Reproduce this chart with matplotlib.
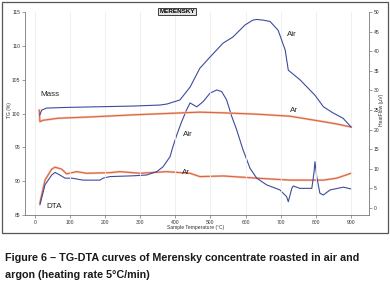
import matplotlib
matplotlib.use("Agg")
import matplotlib.pyplot as plt
from matplotlib.patches import Rectangle

# ---- data ----
tg_air_T = [14, 19, 33, 90, 280, 356, 376, 413, 442, 470, 499, 536, 564, 599, 621, 632, 650, 670, 693, 713, 722, 755, 798, 822, 849, 878, 901]
tg_air = [99.8, 100.5, 100.8, 100.9, 101.1, 101.25, 101.4, 102.0, 103.9, 106.7, 108.35, 110.4, 111.3, 113.1, 113.8, 113.9, 113.8, 113.6, 112.3, 109.4, 106.4, 105.0, 102.7, 101.0, 100.1, 99.3, 98.0]

tg_ar_T = [12, 14, 23, 66, 162, 279, 470, 536, 633, 727, 821, 860, 901]
tg_ar = [100.5, 98.8, 99.0, 99.3, 99.5, 99.8, 100.2, 100.1, 99.9, 99.6, 98.8, 98.45, 98.0]

dta_air_T = [14, 28.5, 47.6, 57, 71, 85.5, 105, 137, 185, 194, 214, 279, 318, 347, 365, 385, 393, 404, 418, 432, 442, 461, 479, 499, 518, 532, 546, 561, 575, 593, 613, 632, 660, 698, 717, 722, 727, 732, 736, 755, 789, 795, 798, 803, 812, 822, 841, 879, 901]
dta_air = [0.8, 5.9, 8.4, 9.06, 8.4, 7.6, 7.6, 7.1, 7.1, 7.6, 8.0, 8.2, 8.4, 9.26, 10.5, 13.1, 15.6, 18.6, 22.0, 25.0, 26.8, 25.8, 27.1, 29.3, 30.1, 29.7, 27.6, 23.3, 19.9, 14.8, 10.1, 7.6, 5.9, 4.6, 2.9, 1.6, 3.3, 5.0, 5.6, 5.0, 5.0, 8.9, 11.8, 8.0, 3.75, 3.3, 4.6, 5.3, 4.85]

dta_ar_T = [14, 28.5, 47.6, 57, 76, 90, 119, 147, 214, 242, 299, 375, 442, 470, 537, 632, 727, 822, 860, 901]
dta_ar = [1.3, 7.1, 9.9, 10.4, 9.9, 8.7, 9.26, 8.85, 9.0, 9.26, 8.85, 9.26, 8.85, 8.0, 8.16, 7.6, 7.1, 7.1, 7.6, 8.85]

x_ticks = [0, 100, 200, 300, 400, 500, 600, 700, 800, 900]
tg_ticks = [85, 90, 95, 100, 105, 110, 115]
hf_ticks = [0, 5, 10, 15, 20, 25, 30, 35, 40, 45, 50]

BLUE = "#3d4c9c"
ORANGE = "#dc6440"
ORANGE_HALO = "#f5c6b4"
FONT = "Liberation Sans"

W, H = 390, 294
fig = plt.figure(figsize=(W / 100, H / 100), dpi=100)
fig.patch.set_facecolor("white")

# outer frame
fig.add_artist(Rectangle((2 / W, 1 - 233 / H), 386 / W, 231 / H, transform=fig.transFigure,
                         fill=False, edgecolor="#555555", lw=0.9))

ax = fig.add_axes([25 / W, 1 - 215 / H, 344 / W, 203 / H])
ax2 = ax.twinx()
ax.set_zorder(ax2.get_zorder() + 1)
ax.patch.set_visible(False)

ax.set_xlim(-28.5, 952)
ax.set_ylim(85, 115)
ax2.set_ylim(-1.8, 50)

for t in x_ticks:
    ax.axvline(t, color="#ececec", lw=0.6, zorder=0)

# TG curves (left)
ax.plot(tg_ar_T, tg_ar, color=ORANGE_HALO, lw=1.6, zorder=2)
ax.plot(tg_ar_T, tg_ar, color=ORANGE, lw=0.8, zorder=3)
ax.plot(tg_air_T, tg_air, color=BLUE, lw=0.8, zorder=4)

# DTA curves (right)
ax2.plot(dta_ar_T, dta_ar, color=ORANGE_HALO, lw=1.6, zorder=2)
ax2.plot(dta_ar_T, dta_ar, color=ORANGE, lw=0.8, zorder=3)
ax2.plot(dta_air_T, dta_air, color=BLUE, lw=0.8, zorder=4)

for a in (ax, ax2):
    a.spines["top"].set_visible(False)
    for s in ("left", "right", "bottom"):
        a.spines[s].set_color("#777777")
        a.spines[s].set_linewidth(0.6)
ax.spines["right"].set_visible(False)
ax2.spines["left"].set_visible(False)
ax2.spines["bottom"].set_visible(False)

ax.set_xticks(x_ticks)
ax.set_yticks(tg_ticks)
ax2.set_yticks(hf_ticks)
ax.tick_params(axis="both", labelsize=3.6, length=2, width=0.5, color="#777777", pad=1.5, labelcolor="#333333")
ax2.tick_params(axis="y", labelsize=3.6, length=2, width=0.5, color="#777777", pad=1.5, labelcolor="#333333")
for lab in ax.get_xticklabels() + ax.get_yticklabels() + ax2.get_yticklabels():
    lab.set_family(FONT)

fig.text(9 / W, 1 - 110 / H, "TG (%)", rotation=90, ha="center", va="center", fontsize=3.6, family=FONT, color="#333333")
fig.text(381 / W, 1 - 110 / H, "HeatFlow (µV)", rotation=90, ha="center", va="center", fontsize=3.6, family=FONT, color="#333333")
fig.text(196 / W, 1 - 227 / H, "Sample Temperature (°C)", ha="center", va="center", fontsize=3.6, family=FONT, color="#333333")

fig.text(177 / W, 1 - 11.5 / H, "MERENSKY", ha="center", va="center", fontsize=4.6, family=FONT, weight="bold",
         bbox=dict(boxstyle="square,pad=0.22", facecolor="#e4e4e4", edgecolor="#222222", lw=0.6))

lab_kw = dict(ha="center", va="center", fontsize=5.8, family=FONT, color="#222222")
fig.text(50 / W, 1 - 94 / H, "Mass", **lab_kw)
fig.text(292 / W, 1 - 35 / H, "Air", **lab_kw)
fig.text(294 / W, 1 - 110 / H, "Ar", **lab_kw)
fig.text(187.5 / W, 1 - 135 / H, "Air", **lab_kw)
fig.text(185.5 / W, 1 - 172 / H, "Ar", **lab_kw)
fig.text(54 / W, 1 - 206 / H, "DTA", **lab_kw)

fig.text(5 / W, 1 - 258 / H, "Figure 6 – TG-DTA curves of Merensky concentrate roasted in air and",
         ha="left", va="center", fontsize=7.75, family=FONT, weight="bold", color="#1a1a1a")
fig.text(5 / W, 1 - 275 / H, "argon (heating rate 5°C/min)",
         ha="left", va="center", fontsize=7.75, family=FONT, weight="bold", color="#1a1a1a")

fig.savefig("out.png", dpi=100, facecolor="white")
